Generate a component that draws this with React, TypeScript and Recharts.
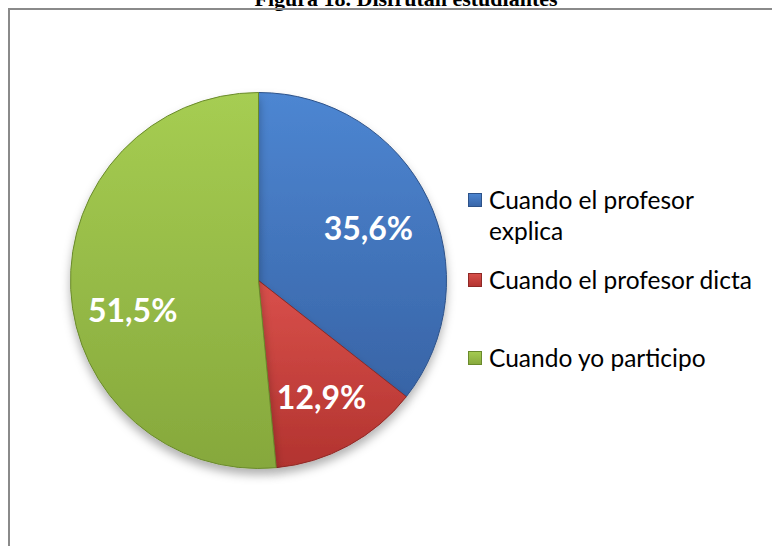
import React from "react";
import { Cell, Pie, PieChart } from "recharts";

const categories = [
  "Cuando el profesor explica",
  "Cuando el profesor dicta",
  "Cuando yo participo",
];
const values = [35.6, 12.9, 51.5];
const valueLabels = ["35,6%", "12,9%", "51,5%"];

const colors = [
  { light: "#4d86d2", dark: "#3864a6", stroke: "#2d5289" },
  { light: "#d9504b", dark: "#b2332f", stroke: "#8f2926" },
  { light: "#a6cd52", dark: "#86a83c", stroke: "#6a8a2c" },
];

const data = categories.map((name, i) => ({ name, value: values[i], label: valueLabels[i] }));

const RAD = Math.PI / 180;
// small nudges so labels sit where Excel's "best fit" put them
const labelNudge = [
  { r: 0.65, dy: 0 },
  { r: 0.7, dy: 0 },
  { r: 0.67, dy: 23 },
];

function renderLabel(props: any) {
  const { cx, cy, midAngle, outerRadius, index } = props;
  const n = labelNudge[index];
  const r = outerRadius * n.r;
  const x = cx + r * Math.cos(-midAngle * RAD);
  const y = cy + r * Math.sin(-midAngle * RAD) + n.dy;
  return (
    <text
      x={x}
      y={y}
      fill="#ffffff"
      textAnchor="middle"
      dominantBaseline="central"
      fontFamily="Lato, sans-serif"
      fontWeight={700}
      fontSize={32}
    >
      {data[index].label}
    </text>
  );
}

function ChartLegend() {
  return (
    <div
      style={{
        position: "absolute",
        left: 468,
        top: 184,
        fontFamily: "Lato, sans-serif",
        fontSize: 24.5,
        color: "#000",
        lineHeight: "31px",
      }}
    >
      {categories.map((c, i) => (
        <div
          key={c}
          style={{
            display: "flex",
            alignItems: "flex-start",
            marginBottom: i === 0 ? 18 : 47,
          }}
        >
          <div
            style={{
              width: 14,
              height: 14,
              marginTop: 9,
              marginRight: 7,
              flexShrink: 0,
              background: `linear-gradient(180deg, ${colors[i].light} 0%, ${colors[i].dark} 100%)`,
              boxShadow: `inset 0 0 0 1px ${colors[i].stroke}`,
            }}
          />
          <span style={{ width: 276 }}>{c}</span>
        </div>
      ))}
    </div>
  );
}

export default function App() {
  return (
    <div
      style={{
        position: "absolute",
        left: 0,
        top: 0,
        width: 772,
        height: 546,
        overflow: "hidden",
        background: "#fff",
      }}
    >
      <div
        style={{
          position: "absolute",
          left: 0,
          width: 812,
          top: -14,
          textAlign: "center",
          fontFamily: "'Liberation Serif', 'Times New Roman', serif",
          fontWeight: 700,
          fontSize: 22,
          lineHeight: "26px",
          color: "#000",
        }}
      >
        Figura 18. Disfrutan estudiantes
      </div>
      <div
        style={{
          position: "absolute",
          left: 8,
          top: 8,
          width: 800,
          height: 600,
          borderLeft: "2px solid #8a8a8a",
          borderTop: "2px solid #8a8a8a",
        }}
      />
      <div style={{ position: "absolute", left: 0, top: 0 }}>
        <PieChart width={772} height={546} margin={{ top: 0, right: 0, bottom: 0, left: 0 }}>
          <defs>
            {colors.map((c, i) => (
              <linearGradient key={i} id={`grad${i}`} x1="0" y1="0" x2="0" y2="1">
                <stop offset="0%" stopColor={c.light} />
                <stop offset="100%" stopColor={c.dark} />
              </linearGradient>
            ))}
            <filter id="shadow" x="-20%" y="-20%" width="140%" height="150%">
              <feDropShadow dx="0" dy="6" stdDeviation="5" floodColor="#000" floodOpacity="0.3" />
            </filter>
          </defs>
          <Pie
            data={data}
            dataKey="value"
            nameKey="name"
            cx={258.5}
            cy={280.5}
            outerRadius={188}
            startAngle={90}
            endAngle={-270}
            label={renderLabel}
            labelLine={false}
            isAnimationActive={false}
            style={{ filter: "url(#shadow)" }}
          >
            {data.map((d, i) => (
              <Cell key={d.name} fill={`url(#grad${i})`} stroke={colors[i].stroke} strokeWidth={1} />
            ))}
          </Pie>
        </PieChart>
      </div>
      <ChartLegend />
    </div>
  );
}
